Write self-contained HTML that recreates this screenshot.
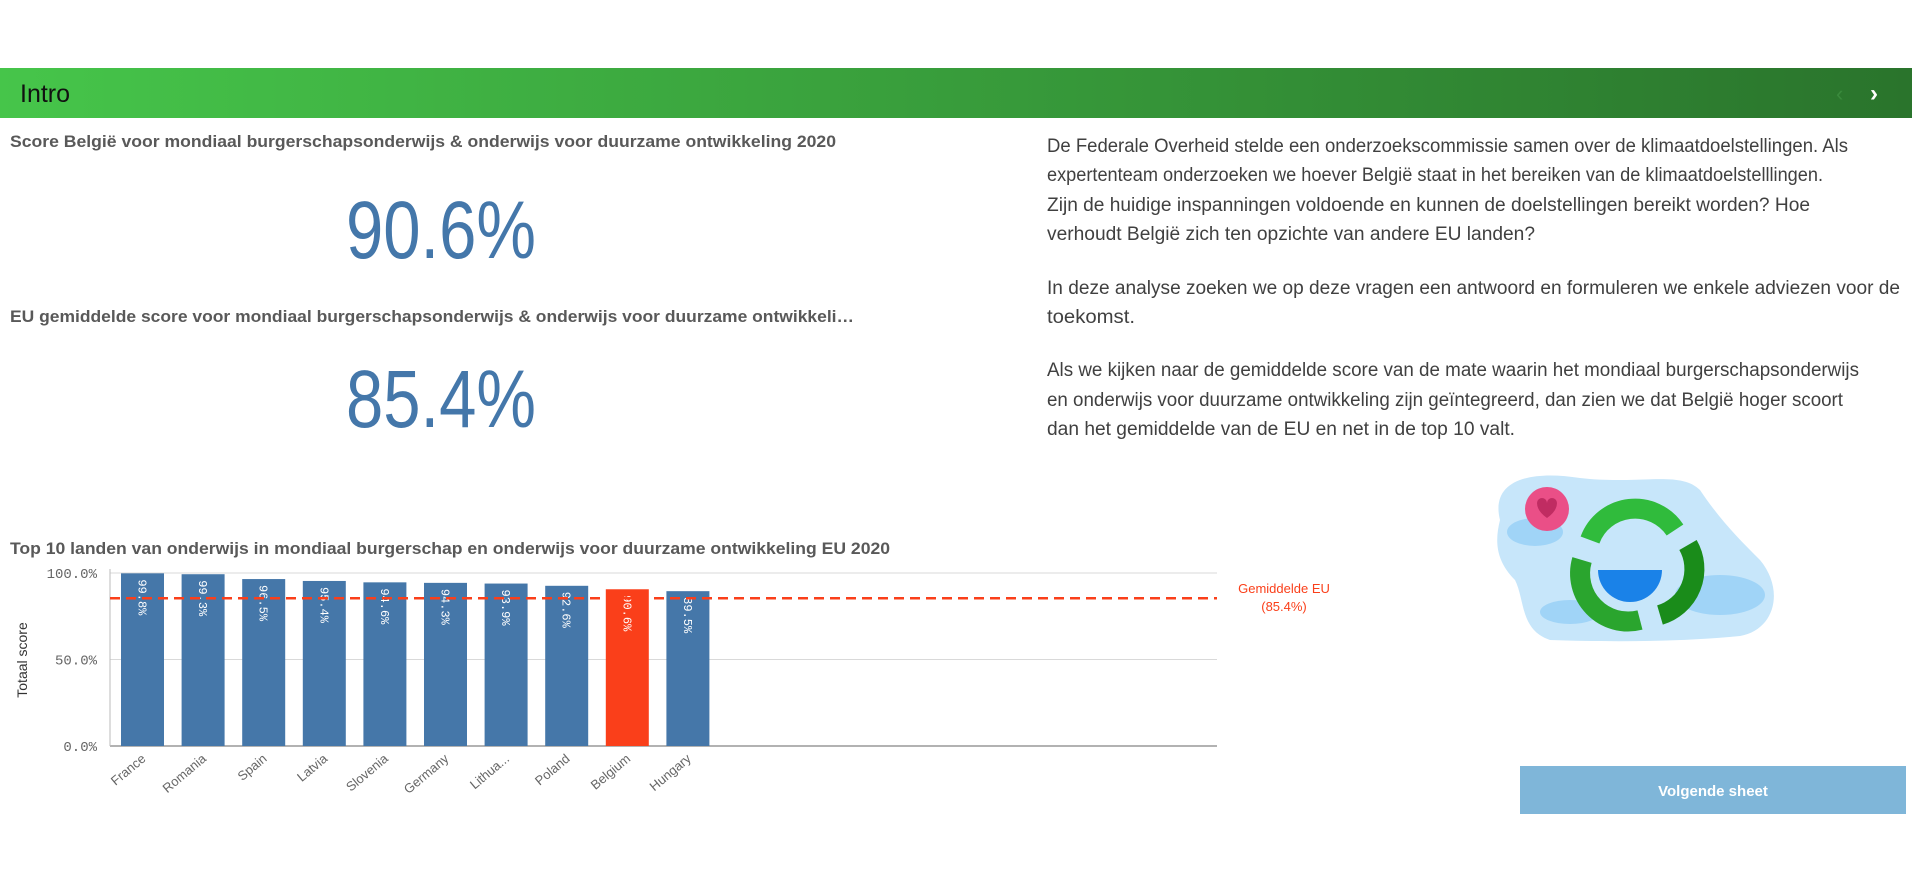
<!DOCTYPE html>
<html><head><meta charset="utf-8">
<style>
html,body{margin:0;padding:0;background:#fff;width:1912px;height:893px;overflow:hidden;font-family:"Liberation Sans",sans-serif}
svg{display:block}
</style></head>
<body>
<svg id="page" width="1912" height="893" viewBox="0 0 1912 893" xmlns="http://www.w3.org/2000/svg">
<defs>
<linearGradient id="hdr" x1="0" x2="1" y1="0" y2="0">
<stop offset="0" stop-color="#46c54a"/><stop offset="1" stop-color="#2a742c"/>
</linearGradient>
</defs>
<g>
<rect x="0" y="68" width="1912" height="50" fill="url(#hdr)"/>
<text x="20" y="102" font-size="25" fill="#111">Intro</text>
<text x="1836" y="101" font-size="22" fill="#3a8a3c">‹</text>
<text x="1870" y="101" font-size="24" fill="#fff" font-weight="bold">›</text>
</g>

<g fill="#595959" font-weight="bold" font-size="17">
<text x="10" y="147" textLength="826" lengthAdjust="spacingAndGlyphs">Score België voor mondiaal burgerschapsonderwijs &amp; onderwijs voor duurzame ontwikkeling 2020</text>
<text x="10" y="322" textLength="844" lengthAdjust="spacingAndGlyphs">EU gemiddelde score voor mondiaal burgerschapsonderwijs &amp; onderwijs voor duurzame ontwikkeli…</text>
<text x="10" y="554" textLength="880" lengthAdjust="spacingAndGlyphs">Top 10 landen van onderwijs in mondiaal burgerschap en onderwijs voor duurzame ontwikkeling EU 2020</text>
</g>
<text x="441" y="258" font-size="82" fill="#4477aa" text-anchor="middle" textLength="190" lengthAdjust="spacingAndGlyphs">90.6%</text>
<text x="441" y="427" font-size="82" fill="#4477aa" text-anchor="middle" textLength="190" lengthAdjust="spacingAndGlyphs">85.4%</text>

<g font-size="19" fill="#404040">
<text x="1047" y="152" textLength="801" lengthAdjust="spacingAndGlyphs">De Federale Overheid stelde een onderzoekscommissie samen over de klimaatdoelstellingen. Als</text>
<text x="1047" y="181" textLength="776" lengthAdjust="spacingAndGlyphs">expertenteam onderzoeken we hoever België staat in het bereiken van de klimaatdoelstelllingen.</text>
<text x="1047" y="211" textLength="763" lengthAdjust="spacingAndGlyphs">Zijn de huidige inspanningen voldoende en kunnen de doelstellingen bereikt worden? Hoe</text>
<text x="1047" y="240" textLength="488" lengthAdjust="spacingAndGlyphs">verhoudt België zich ten opzichte van andere EU landen?</text>
<text x="1047" y="294" textLength="853" lengthAdjust="spacingAndGlyphs">In deze analyse zoeken we op deze vragen een antwoord en formuleren we enkele adviezen voor de</text>
<text x="1047" y="323" textLength="88" lengthAdjust="spacingAndGlyphs">toekomst.</text>
<text x="1047" y="376" textLength="812" lengthAdjust="spacingAndGlyphs">Als we kijken naar de gemiddelde score van de mate waarin het mondiaal burgerschapsonderwijs</text>
<text x="1047" y="406" textLength="796" lengthAdjust="spacingAndGlyphs">en onderwijs voor duurzame ontwikkeling zijn geïntegreerd, dan zien we dat België hoger scoort</text>
<text x="1047" y="435" textLength="468" lengthAdjust="spacingAndGlyphs">dan het gemiddelde van de EU en net in de top 10 valt.</text>
</g>

<g>
<path d="M1500 520 C1490 480 1530 470 1580 478 C1640 485 1680 470 1700 490 C1720 520 1740 540 1760 560 C1785 590 1775 630 1740 636 C1680 642 1610 642 1550 640 C1520 630 1525 600 1515 580 C1495 560 1495 540 1500 520Z" fill="#c7e6fa"/>
<ellipse cx="1535" cy="532" rx="28" ry="14" fill="#a0d4f7"/>
<ellipse cx="1720" cy="595" rx="45" ry="20" fill="#a0d4f7"/>
<ellipse cx="1570" cy="612" rx="30" ry="12" fill="#a0d4f7"/>
<circle cx="1547" cy="509" r="22" fill="#ea4f87"/>
<path d="M1537 503 a5 5 0 0 1 10 0 a5 5 0 0 1 10 0 q0 8 -10 15 q-10 -7 -10 -15z" fill="#c02c62"/>
<circle cx="1630" cy="570" r="32" fill="#1a82e8"/>
<rect x="1595" y="535" width="70" height="35" fill="#c7e6fa"/>
<path d="M1590 540 A48 48 0 0 1 1675 530" stroke="#30bb3c" stroke-width="20" fill="none"/>
<path d="M1688 545 A48 48 0 0 1 1660 615" stroke="#1a8c1a" stroke-width="20" fill="none"/>
<path d="M1640 620 A48 48 0 0 1 1582 560" stroke="#2aa52e" stroke-width="20" fill="none"/>
</g>

<g>
<rect x="1520" y="766" width="386" height="48" fill="#7fb6d9"/>
<text x="1713" y="796" font-size="15" font-weight="bold" fill="#fff" text-anchor="middle">Volgende sheet</text>
</g>

<g id="chart"></g>
</svg>
<script>
const categories = ["France","Romania","Spain","Latvia","Slovenia","Germany","Lithua...","Poland","Belgium","Hungary"];
const values = [99.8, 99.3, 96.5, 95.4, 94.6, 94.3, 93.9, 92.6, 90.6, 89.5];
const valueLabels = ["99.8%","99.3%","96.5%","95.4%","94.6%","94.3%","93.9%","92.6%","90.6%","89.5%"];
const highlight = "Belgium";
const yTicks = [0, 50, 100];
const yTickLabels = ["0.0%","50.0%","100.0%"];
const euAverage = 85.4;

const NS="http://www.w3.org/2000/svg";
const g=document.getElementById('chart');
const L=110,R=1217,T=573,B=746;
const y=v=>B-(v/100)*(B-T);
const pitch=60.6, bw=43, x0=121;
const xb=i=>x0+i*pitch;
function mk(tag,attrs,text){const e=document.createElementNS(NS,tag);for(const k in attrs)e.setAttribute(k,attrs[k]);if(text!=null)e.textContent=text;g.appendChild(e);return e;}

yTicks.forEach((t,i)=>{
  const gl=mk('line',{x1:L,x2:R,y1:y(t),y2:y(t),stroke:t===0?'#999':'#d9d9d9','stroke-width':t===0?1.5:1});
  
  
  const tl=mk('text',{x:97,y:y(t)+5,'font-size':14,fill:'#666','text-anchor':'end','font-family':'Liberation Mono, monospace'},yTickLabels[i]);
  
  
});
const ax=mk('line',{x1:L,x2:L,y1:T-4,y2:B,stroke:'#bbb'});


const yt=mk('text',{transform:'translate(27,660) rotate(-90)','font-size':14,fill:'#333','text-anchor':'middle'},'Totaal score');



categories.forEach((c,i)=>{
  const bx=xb(i);
  const r=mk('rect',{x:bx,y:y(values[i]),width:bw,height:B-y(values[i]),fill:c===highlight?'#fa3f1a':'#4577a9'});
  
  
  const vl=mk('text',{transform:`translate(${bx+bw/2-4},${y(values[i])+6}) rotate(90)`,'font-size':12,fill:'#fff','font-family':'Liberation Mono, monospace'},valueLabels[i]);
  
  
  const cl=mk('text',{transform:`translate(${bx+bw/2+4},${B+14}) rotate(-40)`,'font-size':13,fill:'#666','text-anchor':'end'},c);
  
  
});

const ref=mk('line',{x1:L,x2:R,y1:y(euAverage),y2:y(euAverage),stroke:'#fa3f1a','stroke-width':2.5,'stroke-dasharray':'10,6'});


const rl1=mk('text',{x:1284,y:593,'font-size':13,fill:'#fa3f1a','text-anchor':'middle'},'Gemiddelde EU');


const rl2=mk('text',{x:1284,y:611,'font-size':13,fill:'#fa3f1a','text-anchor':'middle'},'('+euAverage.toFixed(1)+'%)');


</script>
</body></html>
